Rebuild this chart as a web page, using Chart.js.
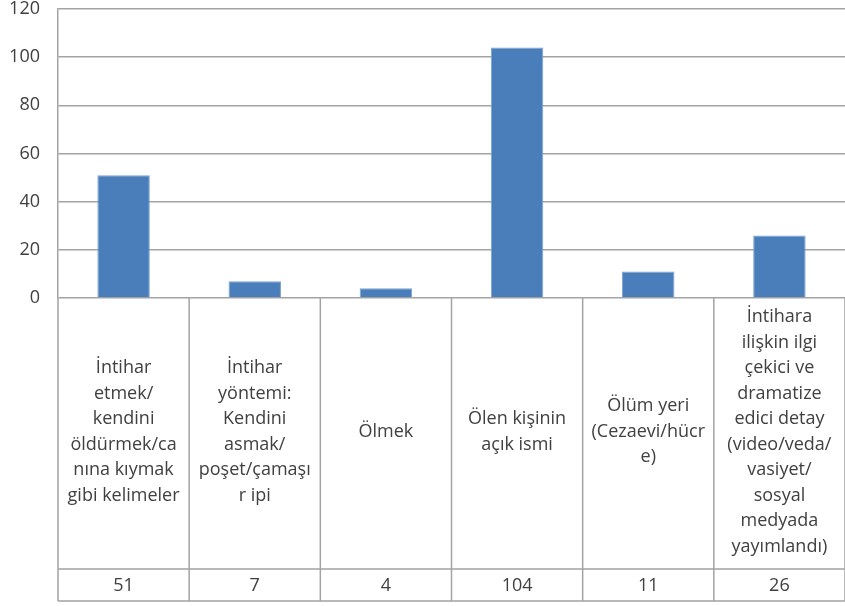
<!DOCTYPE html>
<html>
<head>
<meta charset="utf-8">
<script src="https://cdn.jsdelivr.net/npm/chart.js@4/dist/chart.umd.min.js"></script>
<style>
  html, body { margin: 0; padding: 0; background: #ffffff; }
  #wrap { width: 845px; height: 606px; }
</style>
</head>
<body>
<div id="wrap"><canvas id="c"></canvas></div>
<script>
// Category labels, one array of text lines per table cell
const categories = [
  ['İntihar', 'etmek/', 'kendini', 'öldürmek/ca', 'nına kıymak', 'gibi kelimeler'],
  ['İntihar', 'yöntemi:', 'Kendini', 'asmak/', 'poşet/çamaşı', 'r ipi'],
  ['Ölmek'],
  ['Ölen kişinin', 'açık ismi'],
  ['Ölüm yeri', '(Cezaevi/hücr', 'e)'],
  ['İntihara', 'ilişkin ilgi', 'çekici ve', 'dramatize', 'edici detay', '(video/veda/', 'vasiyet/', 'sosyal', 'medyada', 'yayımlandı)']
];
const counts = [51, 7, 4, 104, 11, 26];
const yTicks = [0, 20, 40, 60, 80, 100, 120];

const textColor = '#404040';
const lineColor = '#a3a3a3';
const fontFamily = '"Open Sans", "Noto Sans", sans-serif';

// Draws the data-table borders under the plot, following the category scale
const tableLines = {
  id: 'tableLines',
  afterDraw(chart) {
    const x = chart.scales.x;
    const v = chart.scales.values;
    const ctx = chart.ctx;
    const n = categories.length;
    const half = (x.getPixelForValue(1) - x.getPixelForValue(0)) / 2;
    ctx.save();
    ctx.strokeStyle = lineColor;
    ctx.lineWidth = 1.5;
    ctx.beginPath();
    for (let i = 0; i < n; i++) {
      const px = x.getPixelForValue(i) - half;
      ctx.moveTo(px, x.top);
      ctx.lineTo(px, v.bottom);
    }
    const lastPx = x.getPixelForValue(n - 1) + half;
    ctx.moveTo(lastPx, x.top);
    ctx.lineTo(lastPx, v.bottom);
    ctx.moveTo(x.left, v.top);
    ctx.lineTo(x.right, v.top);
    ctx.moveTo(x.left, v.bottom);
    ctx.lineTo(x.right, v.bottom);
    ctx.stroke();
    ctx.restore();
  }
};

// Table rows fill the full plot width, so no extra side padding
const noSidePadding = (scale) => { scale.paddingLeft = 0; scale.paddingRight = 0; };

new Chart(document.getElementById('c'), {
  type: 'bar',
  data: {
    labels: categories,
    datasets: [{
      data: counts,
      backgroundColor: '#4a7ebb',
      borderColor: '#7ea2d0',
      borderWidth: 1,
      barPercentage: 0.4,
      categoryPercentage: 1.0
    }]
  },
  options: {
    responsive: true,
    maintainAspectRatio: false,
    animation: false,
    layout: { padding: { top: 0, right: 0, bottom: 5, left: 0 } },
    plugins: {
      legend: { display: false },
      tooltip: { enabled: false }
    },
    scales: {
      y: {
        min: 0,
        max: 120,
        afterBuildTicks: (scale) => { scale.ticks = yTicks.map(v => ({ value: v })); },
        afterFit: (scale) => { scale.width = 58; },
        grid: {
          color: lineColor,
          lineWidth: 1.5,
          drawTicks: true,
          tickLength: 18,
          tickColor: 'rgba(0,0,0,0)'
        },
        border: { display: true, color: lineColor, width: 1.5 },
        ticks: {
          padding: 0,
          color: textColor,
          font: { family: fontFamily, size: 18, lineHeight: 1.0 }
        }
      },
      x: {
        type: 'category',
        position: 'bottom',
        weight: 0,
        offset: true,
        afterFit: (scale) => { scale.height = 271; noSidePadding(scale); },
        grid: { display: false, drawTicks: false },
        border: { display: false },
        ticks: {
          autoSkip: false,
          maxRotation: 0,
          minRotation: 0,
          crossAlign: 'center',
          padding: 19,
          color: textColor,
          font: { family: fontFamily, size: 18, lineHeight: '25.5px' }
        }
      },
      values: {
        type: 'category',
        position: 'bottom',
        weight: 1,
        offset: true,
        labels: counts.map(String),
        afterFit: (scale) => { scale.height = 32; noSidePadding(scale); },
        grid: { display: false, drawTicks: false },
        border: { display: false },
        ticks: {
          autoSkip: false,
          maxRotation: 0,
          minRotation: 0,
          padding: 6,
          color: textColor,
          font: { family: fontFamily, size: 18, lineHeight: 1.2 }
        }
      }
    }
  },
  plugins: [tableLines]
});
</script>
</body>
</html>
